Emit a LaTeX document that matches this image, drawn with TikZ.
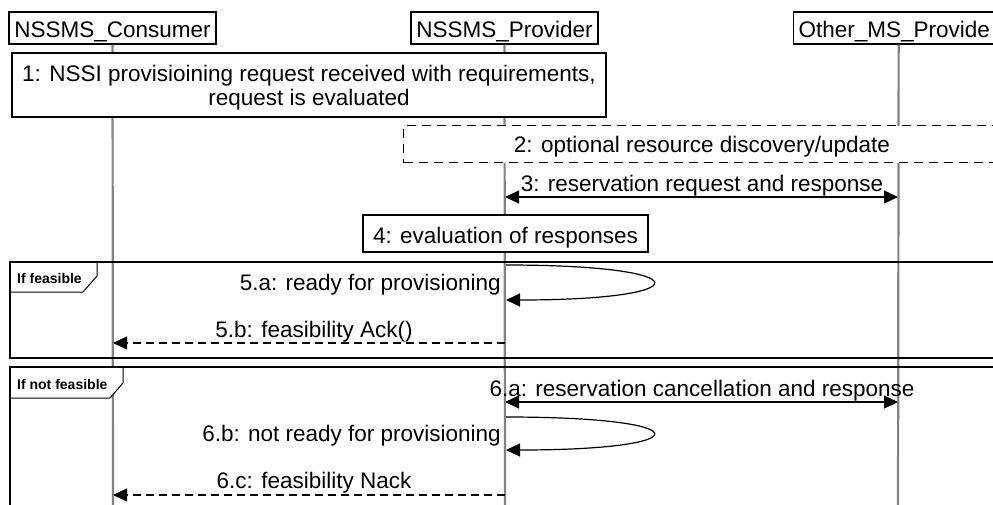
\documentclass[tikz,border=0pt]{standalone}
\usepackage{fontspec}
\setmainfont{Liberation Sans}
\usetikzlibrary{arrows.meta}
\begin{document}
\begin{tikzpicture}[x=1pt,y=-1pt,
  font=\fontsize{22.5}{24}\selectfont,
  hdr/.style={draw=black, line width=1.3pt, fill=white, inner sep=0pt, minimum height=32pt, text height=19pt, text depth=0pt},
  note/.style={draw=black, line width=1.3pt, fill=white, inner sep=0pt, align=center},
  dnote/.style={note, dash pattern=on 9pt off 6pt, line width=1.1pt},
  life/.style={draw={rgb,255:red,130;green,130;blue,130}, line width=2.2pt},
  frm/.style={draw=black, line width=2.5pt},
  tabshape/.style={draw=black, line width=1pt},
  tip/.tip={Triangle[length=14pt,width=13pt]},
  msg/.style={draw=black, line width=1.2pt, -tip},
  dmsg/.style={msg, dash pattern=on 8pt off 5pt},
  both/.style={draw=black, line width=1.2pt, tip-tip},
  lbl/.style={inner sep=0pt, yshift=-2.5pt},
  tabtxt/.style={font=\bfseries\fontsize{14}{16}\selectfont, inner sep=0pt, anchor=west}
]
\useasboundingbox (0,0) rectangle (993,504);
\clip (0,0) rectangle (993,504);

% header nodes
\node[hdr, minimum width=207pt] (cons) at (112.5,28) {NSSMS\_Consumer};
\node[hdr, minimum width=187pt] (prov) at (504.5,28) {NSSMS\_Provider};
\node[hdr, anchor=west, align=left, text width=200pt, inner xsep=5pt] (oth) at (793,28) {Other\_MS\_Provide};

% lifeline end coordinates
\coordinate (consbot) at (113,520);
\coordinate (provbot) at (505,520);
\coordinate (othbot) at (898,520);

% tab fills (under frames)
\fill[white] (10,262) -- (97,262) -- (97,276) -- (83,292) -- (10,292) -- cycle;

% lifelines
\draw[life] (cons.south) -- (consbot);
\draw[life] (prov.south) -- (provbot);
\draw[life] (oth.south) -- (othbot);

% tab 2 fill covers consumer lifeline
\fill[white] (10,367) -- (123,367) -- (123,383) -- (110,398) -- (10,398) -- cycle;

% combined fragments
\draw[frm] (10,262) rectangle (1010,358);
\draw[frm] (10,367) rectangle (1010,530);
\draw[tabshape] (97,262) -- (97,276) -- (83,292) -- (10,292);
\draw[tabshape] (123,367) -- (123,383) -- (110,398) -- (10,398);
\node[tabtxt] (t1) at (17,278) {If feasible};
\node[tabtxt] (t2) at (17,384) {If not feasible};

% notes
\node[note, minimum width=594pt, minimum height=64pt, text depth=0pt] (n1) at (309,85)
  {1: NSSI provisioining request received with requirements,\\request is evaluated};
\node[dnote, anchor=north west, minimum width=610pt, minimum height=37pt] (n2) at (403,125) {};
\node[lbl] (n2t) at (702,144) {2: optional resource discovery/update};
\node[note, minimum width=285pt, minimum height=37pt, text height=19pt, text depth=0pt] (n4) at (505.5,233.5) {4: evaluation of responses};

% message 3
\coordinate (p3) at (505,197);
\coordinate (o3) at (898,197);
\draw[both] (p3) -- (o3);
\node[lbl] (l3) at (702,183) {3: reservation request and response};

% 5.a self message
\coordinate (s5a) at (506,265);
\coordinate (e5a) at (506,300);
\draw[msg] (s5a) .. controls (702,265) and (702,300) .. (e5a);
\node[lbl, anchor=east] (l5a) at (501,282) {5.a: ready for provisioning};

% 5.b
\coordinate (p5b) at (505,343);
\coordinate (c5b) at (113,343);
\draw[dmsg] (p5b) -- (c5b);
\node[lbl] (l5b) at (314,329) {5.b: feasibility Ack()};

% 6.a
\coordinate (p6a) at (505,402);
\coordinate (o6a) at (898,402);
\draw[both] (p6a) -- (o6a);
\node[lbl] (l6a) at (702,388) {6.a: reservation cancellation and response};

% 6.b self message
\coordinate (s6b) at (506,417);
\coordinate (e6b) at (506,450);
\draw[msg] (s6b) .. controls (702,417) and (702,450) .. (e6b);
\node[lbl, anchor=east] (l6b) at (501,433) {6.b: not ready for provisioning};

% 6.c
\coordinate (p6c) at (505,495);
\coordinate (c6c) at (113,495);
\draw[dmsg] (p6c) -- (c6c);
\node[lbl] (l6c) at (314,480) {6.c: feasibility Nack};
\end{tikzpicture}
\end{document}
